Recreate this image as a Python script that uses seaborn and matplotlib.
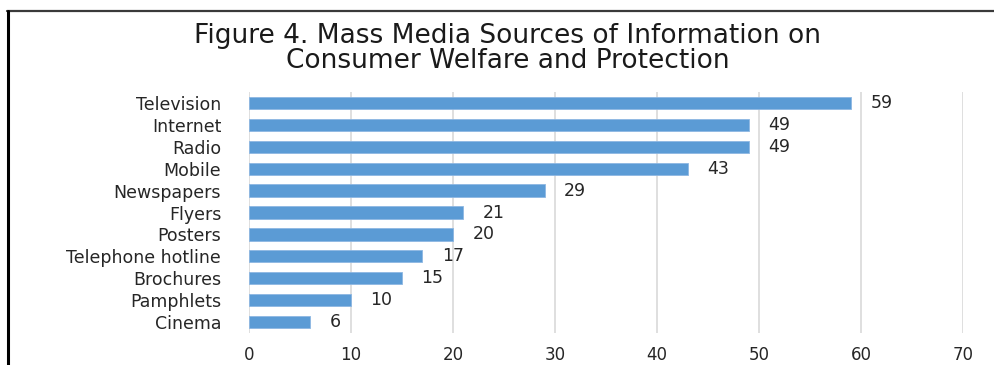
import matplotlib
matplotlib.use("Agg")
import matplotlib.pyplot as plt
from matplotlib.lines import Line2D
import seaborn as sns
import pandas as pd

# Survey data: mass media sources of consumer information
sources = ["Television", "Internet", "Radio", "Mobile", "Newspapers", "Flyers",
           "Posters", "Telephone hotline", "Brochures", "Pamphlets", "Cinema"]
counts = [59, 49, 49, 43, 29, 21, 20, 17, 15, 10, 6]
x_ticks = [0, 10, 20, 30, 40, 50, 60, 70]
title_lines = ["Figure 4. Mass Media Sources of Information on",
               "Consumer Welfare and Protection"]

df = pd.DataFrame({"source": sources, "count": counts})

sns.set_theme(style="white")
plt.rcParams["font.family"] = ["DejaVu Sans"]

fig = plt.figure(figsize=(9.95, 3.65), dpi=100)
ax = fig.add_axes([249 / 995, 1 - 333 / 365, (963 - 249) / 995, (333 - 92) / 365])

sns.barplot(data=df, x="count", y="source", orient="h", color="#5B9BD5",
            saturation=1, width=0.56, edgecolor="#8DB7E2", linewidth=0.6, ax=ax)

ax.set_xlim(0, 70)
ax.set_xticks(x_ticks)
ax.set_xticklabels([str(t) for t in x_ticks], fontsize=12, color="#262626")
ax.tick_params(axis="x", length=0, pad=9)
ax.tick_params(axis="y", length=0, pad=20, labelsize=12.5, labelcolor="#262626")
ax.set_xlabel("")
ax.set_ylabel("")
for s in ax.spines.values():
    s.set_visible(False)
ax.grid(axis="x", color="#D9D9D9", linewidth=1.2)
ax.set_axisbelow(True)

for cont in ax.containers:
    ax.bar_label(cont, labels=[str(v) for v in counts], padding=14,
                 fontsize=12.5, color="#262626")

# Chart title, two centred lines
fig.text(508 / 995, 1 - 48.5 / 365, "\n".join(title_lines), ha="center",
         va="center", fontsize=19, linespacing=0.92, color="#1a1a1a")

# Outer frame: top rule and heavy left rule
fig.add_artist(Line2D([7 / 995, 1.0], [1 - 11 / 365, 1 - 11 / 365],
                      transform=fig.transFigure, color="#3a3a3a", linewidth=1.6))
fig.add_artist(Line2D([8 / 995, 8 / 995], [0.0, 1 - 11 / 365],
                      transform=fig.transFigure, color="#000000", linewidth=2.2))

fig.savefig("out.png", dpi=100)
